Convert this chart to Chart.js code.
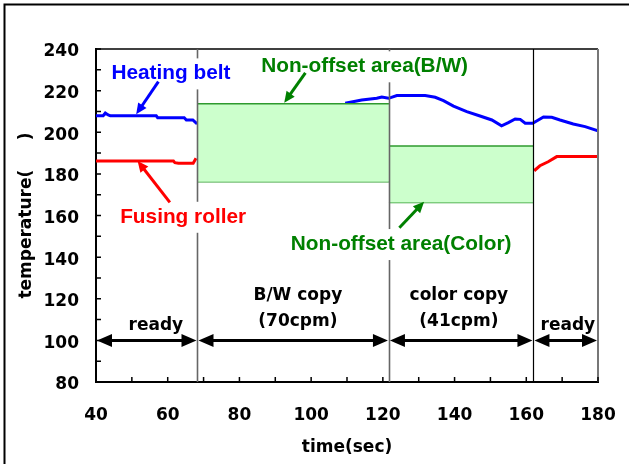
<!DOCTYPE html>
<html>
<head>
<meta charset="utf-8">
<script src="https://cdn.jsdelivr.net/npm/chart.js@4.4.0/dist/chart.umd.min.js"></script>
<style>
    html, body { margin: 0; padding: 0; background: #fff; overflow: hidden; }
    canvas { display: block; }
</style>
</head>
<body>
<canvas id="myChart" width="629" height="464"></canvas>
<script>
    // heating belt temperature, null where it is hidden behind the B/W area
    var beltTime = [40, 42, 42.6, 43.4, 44, 56.8, 57.2, 64.6, 65.2, 67, 68.2, 68.3,
        109.5, 114.1, 118.3, 119.7, 121.6, 123.9, 131.8, 134.6, 136.9, 139.7, 143.4, 147.1,
        150.4, 153.1, 155, 156.9, 158.3, 159.7, 161.8, 164.8, 167.1, 169.4, 173.1, 176.4, 180];
    var beltTemp = [207.9, 207.9, 209.2, 208.3, 207.9, 207.9, 207, 207, 205.9, 205.9, 204, null,
        213.9, 215.5, 216.3, 216.9, 216.3, 217.6, 217.6, 216.8, 215.2, 212.6, 209.9, 207.8,
        205.9, 203.1, 204.6, 206.4, 206.2, 204.3, 204.3, 207.3, 207.2, 205.9, 204, 202.7, 200.7];

    // fusing roller temperature
    var rollerTime = [40, 61.6, 62, 63, 67.1, 67.9, 68.3, 162.2, 163.8, 166.1, 168.5, 180];
    var rollerTemp = [186.2, 186.2, 185.4, 185.1, 185.1, 187.5, null, 181.5, 183.9, 185.8, 188.3, 188.3];

    // non-offset areas (time range, temperature low/high)
    var bwAreaTime = [68.3, 121.7];
    var bwAreaTemp = [176.2, 213.7];
    var colorAreaTime = [121.7, 162];
    var colorAreaTemp = [166.3, 193.4];

    // machine phases
    var phaseEdges = [40, 68.3, 121.7, 162, 180];
    var phaseNames = [['ready'], ['B/W copy', '(70cpm)'], ['color copy', '(41cpm)'], ['ready']];

    function pairs(xs, ys) {
        var out = [];
        for (let i = 0; i < xs.length; i++) {
            out.push({ x: xs[i], y: ys[i] });
        }
        return out;
    }

    var bold17 = { family: 'DejaVu Sans', weight: 'bold', size: 17 };
    var calloutFont = 'bold 20.8px "Liberation Sans", Arial, sans-serif';
    var phaseFont = 'bold 17px "DejaVu Sans", sans-serif';

    var callouts = [
        { text: 'Heating belt', color: '#0000ff', x: 60.9, y: 225.4, from: [57.4, 224.3], to: [51.2, 208.6] },
        { text: 'Fusing roller', color: '#ff0000', x: 64.3, y: 156.5, from: [60.6, 166.3], to: [51.6, 186.2] },
        { text: 'Non-offset area(B/W)', color: '#008000', x: 114.9, y: 228.8, from: [98.4, 228.5], to: [92.5, 214.2] },
        { text: 'Non-offset area(Color)', color: '#008000', x: 125.1, y: 143.4, from: [124.6, 154.1], to: [131.5, 166.6] }
    ];
    var phaseLabelX = [56.7, 96.3, 141.2, 171.6];
    var edgeStyle = [null, '#666666', '#666666', '#000000', null];

    function arrowHead(ctx, x1, y1, x2, y2, len, half) {
        var ang = Math.atan2(y2 - y1, x2 - x1);
        ctx.beginPath();
        ctx.moveTo(x2, y2);
        ctx.lineTo(x2 - len * Math.cos(ang) + half * Math.sin(ang), y2 - len * Math.sin(ang) - half * Math.cos(ang));
        ctx.lineTo(x2 - len * Math.cos(ang) - half * Math.sin(ang), y2 - len * Math.sin(ang) + half * Math.cos(ang));
        ctx.closePath();
        ctx.fill();
    }

    var overlay = {
        id: 'overlay',
        afterDatasetsDraw: function(chart) {
            var ctx = chart.ctx, a = chart.chartArea, xs = chart.scales.x, ys = chart.scales.y;
            ctx.save();

            // outer frame (top and left only)
            ctx.strokeStyle = '#000';
            ctx.lineWidth = 2;
            ctx.beginPath();
            ctx.moveTo(4.5, 464);
            ctx.lineTo(4.5, 4.5);
            ctx.lineTo(629, 4.5);
            ctx.stroke();

            // plot frame top / right
            ctx.lineWidth = 1.5;
            ctx.beginPath();
            ctx.moveTo(a.left, a.top);
            ctx.lineTo(a.right, a.top);
            ctx.stroke();
            ctx.strokeStyle = '#777';
            ctx.lineWidth = 2;
            ctx.beginPath();
            ctx.moveTo(a.right, a.top);
            ctx.lineTo(a.right, a.bottom);
            ctx.stroke();

            // inward tick marks
            ctx.strokeStyle = '#000';
            ctx.lineWidth = 1.5;
            ctx.beginPath();
            xs.ticks.forEach(function(t) {
                var px = xs.getPixelForValue(t.value);
                ctx.moveTo(px, a.bottom);
                ctx.lineTo(px, a.bottom - 5);
            });
            ys.ticks.forEach(function(t) {
                var py = ys.getPixelForValue(t.value);
                ctx.moveTo(a.left, py);
                ctx.lineTo(a.left + 5, py);
            });
            ctx.stroke();

            // phase boundaries
            for (let i = 1; i < phaseEdges.length - 1; i++) {
                var px = Math.round(xs.getPixelForValue(phaseEdges[i])) + 0.5;
                ctx.strokeStyle = edgeStyle[i];
                ctx.lineWidth = i < 3 ? 1.6 : 1.2;
                ctx.beginPath();
                ctx.moveTo(px, a.top);
                ctx.lineTo(px, a.bottom);
                ctx.stroke();
            }

            // callout labels with white boxes, and their arrows
            ctx.font = calloutFont;
            ctx.textAlign = 'center';
            ctx.textBaseline = 'alphabetic';
            callouts.forEach(function(c) {
                var cx = xs.getPixelForValue(c.x), cy = ys.getPixelForValue(c.y);
                var w = ctx.measureText(c.text).width;
                ctx.fillStyle = '#fff';
                ctx.fillRect(cx - w / 2 - 7, cy - 21, w + 14, 31);
                ctx.fillStyle = c.color;
                ctx.fillText(c.text, cx, cy);

                var x1 = xs.getPixelForValue(c.from[0]), y1 = ys.getPixelForValue(c.from[1]);
                var x2 = xs.getPixelForValue(c.to[0]), y2 = ys.getPixelForValue(c.to[1]);
                var ang = Math.atan2(y2 - y1, x2 - x1);
                ctx.strokeStyle = c.color;
                ctx.lineWidth = 3;
                ctx.beginPath();
                ctx.moveTo(x1, y1);
                ctx.lineTo(x2 - 8 * Math.cos(ang), y2 - 8 * Math.sin(ang));
                ctx.stroke();
                arrowHead(ctx, x1, y1, x2, y2, 11, 5);
            });

            // phase double arrows at 100
            var ay = ys.getPixelForValue(100);
            ctx.strokeStyle = '#000';
            ctx.fillStyle = '#000';
            ctx.lineWidth = 3;
            for (let i = 0; i < phaseEdges.length - 1; i++) {
                var p1 = xs.getPixelForValue(phaseEdges[i]);
                var p2 = xs.getPixelForValue(phaseEdges[i + 1]);
                ctx.beginPath();
                ctx.moveTo(p1 + 10, ay);
                ctx.lineTo(p2 - 10, ay);
                ctx.stroke();
                arrowHead(ctx, p1 + 20, ay, p1 + 1, ay, 15, 6.5);
                arrowHead(ctx, p2 - 20, ay, p2 - 1, ay, 15, 6.5);

                ctx.font = phaseFont;
                var lx = xs.getPixelForValue(phaseLabelX[i]);
                var lines = phaseNames[i];
                if (lines.length === 1) {
                    ctx.fillText(lines[0], lx, ay - 10);
                } else {
                    ctx.fillText(lines[0], lx, ay - 40);
                    ctx.fillText(lines[1], lx, ay - 14);
                }
            }
            ctx.restore();
        }
    };

    const ctx = document.getElementById('myChart').getContext('2d');
    var myChart = new Chart(ctx, {
        type: 'line',
        data: {
            datasets: [{
                    data: pairs(bwAreaTime, [bwAreaTemp[1], bwAreaTemp[1]]),
                    borderColor: '#2e9a2e',
                    borderWidth: 1.5,
                    backgroundColor: '#ccffcc',
                    fill: '+1'
                },
                {
                    data: pairs(bwAreaTime, [bwAreaTemp[0], bwAreaTemp[0]]),
                    borderColor: '#2e9a2e',
                    borderWidth: 1.5,
                    fill: false
                },
                {
                    data: pairs(colorAreaTime, [colorAreaTemp[1], colorAreaTemp[1]]),
                    borderColor: '#2e9a2e',
                    borderWidth: 1.5,
                    backgroundColor: '#ccffcc',
                    fill: '+1'
                },
                {
                    data: pairs(colorAreaTime, [colorAreaTemp[0], colorAreaTemp[0]]),
                    borderColor: '#2e9a2e',
                    borderWidth: 1.5,
                    fill: false
                },
                {
                    label: 'Heating belt',
                    data: pairs(beltTime, beltTemp),
                    borderColor: '#0000ff',
                    borderWidth: 3,
                    fill: false
                },
                {
                    label: 'Fusing roller',
                    data: pairs(rollerTime, rollerTemp),
                    borderColor: '#ff0000',
                    borderWidth: 3,
                    fill: false
                }
            ]
        },
        options: {
            responsive: false,
            animation: false,
            layout: { padding: { top: 49, right: 31, left: 0, bottom: 0 } },
            elements: { point: { radius: 0 }, line: { tension: 0 } },
            plugins: { legend: { display: false }, tooltip: { enabled: false } },
            scales: {
                x: {
                    type: 'linear',
                    min: 40,
                    max: 180,
                    grid: { display: false, drawTicks: false },
                    border: { color: '#000', width: 2 },
                    ticks: {
                        stepSize: 10,
                        autoSkip: false,
                        maxRotation: 0,
                        padding: 23,
                        color: '#000',
                        font: bold17,
                        callback: function(v) { return v % 20 === 0 ? v : ''; }
                    },
                    title: { display: true, text: 'time(sec)', color: '#000', font: bold17, padding: { top: 0, bottom: 6 } },
                    afterFit: function(s) {
                        s.height = 82;
                        s.paddingLeft = 0;
                        s.paddingRight = 0;
                    }
                },
                y: {
                    min: 80,
                    max: 240,
                    grid: { display: false, drawTicks: false },
                    border: { color: '#000', width: 2 },
                    ticks: {
                        stepSize: 10,
                        autoSkip: false,
                        padding: 17,
                        labelOffset: 3,
                        color: '#000',
                        font: bold17,
                        callback: function(v) { return v % 20 === 0 ? v : ''; }
                    },
                    title: { display: true, text: 'temperature(     )', color: '#000', font: bold17, padding: { top: 16, bottom: 0 } },
                    afterFit: function(s) {
                        s.width = 96;
                        s.paddingTop = 0;
                        s.paddingBottom = 0;
                    }
                }
            }
        },
        plugins: [overlay]
    });
</script>
</body>
</html>
